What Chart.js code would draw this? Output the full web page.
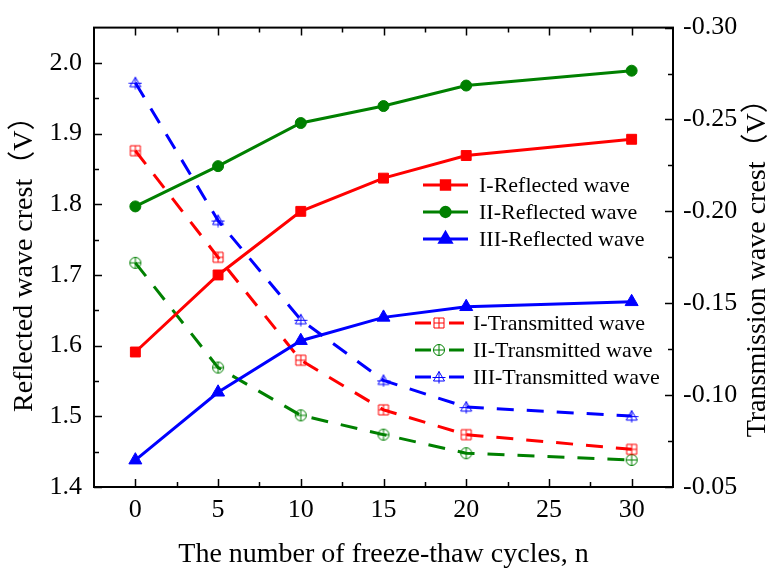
<!DOCTYPE html>
<html>
<head>
<meta charset="utf-8">
<script src="https://cdn.jsdelivr.net/npm/chart.js@4"></script>
<style>
html, body { margin: 0; padding: 0; background: #fff; }
#wrap { width: 773px; height: 573px; }
</style>
</head>
<body>
<div id="wrap"><canvas id="chart" width="773" height="573"></canvas></div>
<script>
// freeze-thaw cycles
const cycles = [0, 5, 10, 15, 20, 30];

// reflected wave crest (V), left axis
const reflectedI = [1.591, 1.700, 1.790, 1.837, 1.869, 1.892];
const reflectedII = [1.797, 1.854, 1.915, 1.939, 1.968, 1.989];
const reflectedIII = [1.438, 1.534, 1.607, 1.640, 1.655, 1.662];

// transmission wave crest (V), right axis
const transmittedI = [-0.233, -0.175, -0.119, -0.092, -0.0785, -0.0705];
const transmittedII = [-0.172, -0.115, -0.089, -0.0785, -0.0684, -0.0647];
const transmittedIII = [-0.270, -0.195, -0.141, -0.108, -0.0935, -0.0886];

const xTicks = [0, 5, 10, 15, 20, 25, 30];
const leftTicks = [1.4, 1.5, 1.6, 1.7, 1.8, 1.9, 2.0];
const rightTicks = [-0.30, -0.25, -0.20, -0.15, -0.10, -0.05];

const serif = "'Liberation Serif', 'Times New Roman', 'Noto Sans CJK SC', serif";
const RED = '#ff0000', GREEN = '#008000', BLUE = '#0000ff';

function toPoints(values) {
    return cycles.map((c, i) => ({ x: c, y: values[i] }));
}

function midpoints(ticks) {
    const out = [];
    for (let i = 0; i < ticks.length - 1; i++) out.push((ticks[i] + ticks[i + 1]) / 2);
    return out;
}

// open markers with a cross inside, like the origin plot
function makeMarker(kind, color) {
    const c = document.createElement('canvas');
    c.width = 14; c.height = 14;
    const g = c.getContext('2d');
    g.strokeStyle = color;
    g.lineWidth = 1;
    const m = 7;
    g.beginPath();
    if (kind === 'square') {
        g.rect(2, 2, 10, 10);
        g.moveTo(m, 2); g.lineTo(m, 12);
        g.moveTo(2, m); g.lineTo(12, m);
    } else if (kind === 'circle') {
        g.arc(m, m, 5.5, 0, Math.PI * 2);
        g.moveTo(m, 1.5); g.lineTo(m, 12.5);
        g.moveTo(1.5, m); g.lineTo(12.5, m);
    } else {
        g.moveTo(m, 1.5); g.lineTo(1.5, 11); g.lineTo(12.5, 11); g.closePath();
        g.moveTo(m, 1.5); g.lineTo(m, 13.5);
        g.moveTo(0.5, 7.5); g.lineTo(13.5, 7.5);
    }
    g.stroke();
    return c;
}

const markI = makeMarker('square', RED);
const markII = makeMarker('circle', GREEN);
const markIII = makeMarker('triangle', BLUE);

function solidSet(label, values, color, style, radius) {
    return {
        label: label, data: toPoints(values), yAxisID: 'y',
        borderColor: color, backgroundColor: color, borderWidth: 3,
        pointStyle: style, pointRadius: radius, pointBorderWidth: 1,
        pointBackgroundColor: color, pointBorderColor: color, tension: 0
    };
}

function dashedSet(label, values, color, marker) {
    return {
        label: label, data: toPoints(values), yAxisID: 'y2',
        borderColor: color, backgroundColor: color, borderWidth: 3,
        borderDash: [17, 13], pointStyle: marker, pointRadius: 6, tension: 0
    };
}

const datasets = [
    solidSet('I-Reflected wave', reflectedI, RED, 'rect', 7),
    solidSet('II-Reflected wave', reflectedII, GREEN, 'circle', 5.5),
    solidSet('III-Reflected wave', reflectedIII, BLUE, 'triangle', 7.5),
    dashedSet('I-Transmitted wave', transmittedI, RED, markI),
    dashedSet('II-Transmitted wave', transmittedII, GREEN, markII),
    dashedSet('III-Transmitted wave', transmittedIII, BLUE, markIII)
];

// frame with inward ticks on all four sides
const frameTicks = {
    id: 'frameTicks',
    afterDatasetsDraw(chart) {
        const { ctx, chartArea: a, scales } = chart;
        ctx.save();
        ctx.strokeStyle = '#000';
        ctx.lineWidth = 1.5;
        ctx.beginPath();
        const xs = scales.x, yl = scales.y, yr = scales.y2;
        xTicks.forEach(v => {
            const p = Math.round(xs.getPixelForValue(v)) + 0.5;
            ctx.moveTo(p, a.bottom); ctx.lineTo(p, a.bottom - 8);
            ctx.moveTo(p, a.top); ctx.lineTo(p, a.top + 8);
        });
        midpoints(xTicks).forEach(v => {
            const p = Math.round(xs.getPixelForValue(v)) + 0.5;
            ctx.moveTo(p, a.bottom); ctx.lineTo(p, a.bottom - 5);
            ctx.moveTo(p, a.top); ctx.lineTo(p, a.top + 5);
        });
        leftTicks.forEach(v => {
            const p = Math.round(yl.getPixelForValue(v)) + 0.5;
            ctx.moveTo(a.left, p); ctx.lineTo(a.left + 8, p);
        });
        midpoints(leftTicks).forEach(v => {
            const p = Math.round(yl.getPixelForValue(v)) + 0.5;
            ctx.moveTo(a.left, p); ctx.lineTo(a.left + 5, p);
        });
        rightTicks.forEach(v => {
            const p = Math.round(yr.getPixelForValue(v)) + 0.5;
            ctx.moveTo(a.right, p); ctx.lineTo(a.right - 8, p);
        });
        midpoints(rightTicks).forEach(v => {
            const p = Math.round(yr.getPixelForValue(v)) + 0.5;
            ctx.moveTo(a.right, p); ctx.lineTo(a.right - 5, p);
        });
        ctx.stroke();
        ctx.lineWidth = 2;
        ctx.strokeRect(a.left, a.top, a.right - a.left, a.bottom - a.top);

        // right axis title, reading bottom to top like the left one
        ctx.fillStyle = '#000';
        ctx.font = '28px ' + serif;
        ctx.textAlign = 'center';
        ctx.textBaseline = 'middle';
        ctx.translate(758, (a.top + a.bottom) / 2 + 4);
        ctx.rotate(-Math.PI / 2);
        ctx.fillText('Transmission wave crest（V）', 0, 0);
        ctx.restore();
    }
};

// two legend blocks inside the plot
const legendBlocks = {
    id: 'legendBlocks',
    afterDraw(chart) {
        const ctx = chart.ctx;
        ctx.save();
        ctx.font = '22px ' + serif;
        ctx.textBaseline = 'middle';
        ctx.textAlign = 'left';
        const rowsSolid = [185, 212, 239];
        const rowsDashed = [323, 350, 377];
        rowsSolid.forEach((y, i) => {
            const ds = chart.data.datasets[i];
            ctx.strokeStyle = ds.borderColor;
            ctx.lineWidth = 3;
            ctx.beginPath(); ctx.moveTo(423, y); ctx.lineTo(468, y); ctx.stroke();
            Chart.helpers.drawPoint(ctx, {
                pointStyle: ds.pointStyle, radius: ds.pointRadius * 0.85, rotation: 0, borderWidth: 1
            }, 445.5, y);
            ctx.fillStyle = ds.borderColor;
            ctx.fill();
            ctx.fillStyle = '#000';
            ctx.fillText(ds.label, 479, y + 1);
        });
        rowsDashed.forEach((y, i) => {
            const ds = chart.data.datasets[i + 3];
            ctx.strokeStyle = ds.borderColor;
            ctx.lineWidth = 3;
            ctx.beginPath();
            ctx.moveTo(415, y); ctx.lineTo(431, y);
            ctx.moveTo(449, y); ctx.lineTo(464, y);
            ctx.stroke();
            ctx.drawImage(ds.pointStyle, 439 - 7, y - 7);
            ctx.fillStyle = '#000';
            ctx.fillText(ds.label, 473, y + 1);
        });
        ctx.restore();
    }
};

Chart.defaults.font.family = serif;
Chart.defaults.color = '#000';

new Chart(document.getElementById('chart'), {
    type: 'line',
    data: { datasets: datasets },
    options: {
        responsive: false,
        animation: false,
        layout: { padding: { top: 17, left: 0, right: 0, bottom: 0 } },
        plugins: { legend: { display: false }, tooltip: { enabled: false } },
        scales: {
            x: {
                type: 'linear', min: -2.5, max: 32.5,
                afterBuildTicks: s => { s.ticks = xTicks.map(v => ({ value: v })); },
                afterFit: s => { s.height = 86; },
                grid: { display: false, drawTicks: false },
                border: { display: false },
                ticks: { font: { size: 26 }, padding: 8, maxRotation: 0 },
                title: {
                    display: true, text: 'The number of freeze-thaw cycles, n',
                    font: { size: 28 }, padding: { top: 0, bottom: 2 }
                }
            },
            y: {
                type: 'linear', position: 'left', min: 1.4, max: 2.05,
                afterBuildTicks: s => { s.ticks = leftTicks.map(v => ({ value: v })); },
                afterFit: s => { s.width = 94; },
                grid: { display: false, drawTicks: false },
                border: { display: false },
                ticks: { font: { size: 26 }, padding: 12, callback: v => v.toFixed(1) },
                title: {
                    display: true, text: 'Reflected wave crest（V）',
                    font: { size: 28 }, padding: { top: 8, bottom: 0 }
                }
            },
            y2: {
                type: 'linear', position: 'right', min: -0.30, max: -0.05, reverse: true,
                afterBuildTicks: s => { s.ticks = rightTicks.map(v => ({ value: v })); },
                afterFit: s => { s.width = 100; },
                grid: { display: false, drawTicks: false },
                border: { display: false },
                ticks: { font: { size: 26 }, padding: 10, callback: v => v.toFixed(2) }
            }
        }
    },
    plugins: [frameTicks, legendBlocks]
});
</script>
</body>
</html>
